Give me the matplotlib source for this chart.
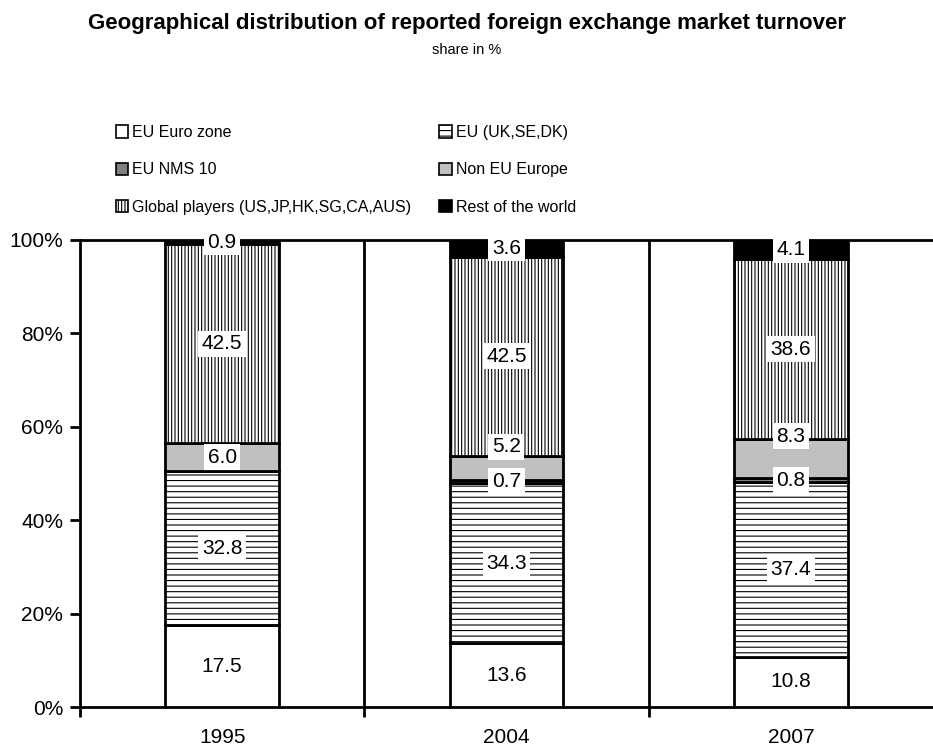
import numpy as np
import matplotlib.pyplot as plt
from matplotlib.patches import Patch

plt.rcParams['font.family'] = ['Liberation Sans', 'DejaVu Sans']
plt.rcParams['hatch.linewidth'] = 0.8

# data (share in %)
years = ['1995', '2004', '2007']
euro_zone = [17.5, 13.6, 10.8]
eu_uk_se_dk = [32.8, 34.3, 37.4]
eu_nms10 = [0.0, 0.7, 0.8]
non_eu_europe = [6.0, 5.2, 8.3]
global_players = [42.5, 42.5, 38.6]
rest_world = [0.9, 3.6, 4.1]

series = [
    ('EU Euro zone', euro_zone, 'white', None),
    ('EU (UK,SE,DK)', eu_uk_se_dk, 'white', '---'),
    ('EU NMS 10', eu_nms10, '#808080', None),
    ('Non EU Europe', non_eu_europe, '#c0c0c0', None),
    ('Global players (US,JP,HK,SG,CA,AUS)', global_players, 'white', '|||||'),
    ('Rest of the world', rest_world, 'black', None),
]

# label nudges (in % points) to avoid overlap of small segments
nudge = {('Non EU Europe', 1): 4.5, ('Non EU Europe', 2): 4.8}

fig = plt.figure(figsize=(9.33, 7.49), dpi=100)
ax = fig.add_axes([0.0857, 0.056, 0.9143, 0.6236])

x = np.arange(len(years))
vals = np.array([s[1] for s in series])
totals = vals.sum(axis=0)
bottom = np.zeros(len(years))
for name, v, col, hatch in series:
    share = np.array(v) / totals * 100
    ax.bar(x, share, 0.4, bottom=bottom, color=col, hatch=hatch,
           edgecolor='black', linewidth=2, zorder=3)
    for i in range(len(years)):
        if v[i] > 0:
            yy = bottom[i] + share[i] / 2 + nudge.get((name, i), 0)
            ax.text(x[i], yy, f'{v[i]:.1f}', ha='center', va='center',
                    fontsize=15, zorder=5,
                    bbox=dict(facecolor='white', edgecolor='none', pad=2.5))
    bottom += share

ax.set_xlim(-0.5, 2.5)
ax.set_ylim(0, 100)
ax.set_yticks(range(0, 101, 20))
ax.set_yticklabels([f'{t}%' for t in range(0, 101, 20)], fontsize=15)
ax.set_xticks(x)
ax.set_xticklabels(years, fontsize=15)
ax.tick_params(axis='x', which='major', length=0, pad=15)
ax.set_xticks([-0.5, 0.5, 1.5], minor=True)
ax.tick_params(axis='x', which='minor', length=7, width=2, direction='out')
ax.tick_params(axis='y', length=7, width=2, pad=5)
for xb in [0.5, 1.5]:
    ax.axvline(xb, color='black', linewidth=2, zorder=2)
for sp in ['left', 'bottom', 'top']:
    ax.spines[sp].set_linewidth(2)
ax.spines['right'].set_visible(False)

fig.text(0.5, 0.969, 'Geographical distribution of reported foreign exchange market turnover',
         ha='center', va='center', fontsize=16, fontweight='bold')
fig.text(0.5, 0.933, 'share in %', ha='center', va='center', fontsize=10.5)

handles = [Patch(facecolor=s[2], hatch=s[3], edgecolor='black', linewidth=1.2, label=s[0])
           for s in series]
order = [0, 2, 4, 1, 3, 5]
fig.legend([handles[i] for i in order], [series[i][0] for i in order],
           ncol=2, loc='upper left', bbox_to_anchor=(0.124, 0.833),
           frameon=False, fontsize=11.5, handlelength=0.8, handleheight=0.8,
           handletextpad=0.25, columnspacing=1.7, labelspacing=1.4,
           borderaxespad=0, borderpad=0)

fig.savefig('out.png', dpi=100)
